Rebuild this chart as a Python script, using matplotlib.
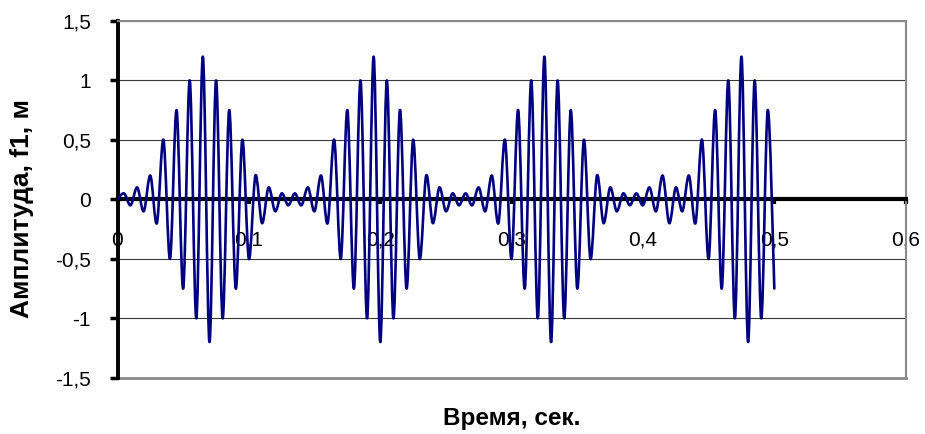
import numpy as np
import matplotlib
matplotlib.use("Agg")
import matplotlib.pyplot as plt
from matplotlib.path import Path
from matplotlib.patches import PathPatch

plt.rcParams["font.family"] = ["Liberation Sans", "DejaVu Sans"]

# sample times (s), step 0.005 s
time_s = np.linspace(0.0, 0.5, 101)

# amplitude f1 (m)
amplitude = [
    0.0, 0.05, -0.05, 0.1, -0.1, 0.2, -0.2, 0.5, -0.5, 0.75, -0.75,
    1.0, -1.0, 1.2, -1.2, 1.0, -1.0, 0.75, -0.75, 0.5, -0.5,
    0.2, -0.2, 0.1, -0.1, 0.05, -0.05, 0.05, -0.05, 0.1, -0.1,
    0.2, -0.2, 0.5, -0.5, 0.75, -0.75, 1.0, -1.0, 1.2, -1.2,
    1.0, -1.0, 0.75, -0.75, 0.5, -0.5, 0.2, -0.2, 0.1, -0.1,
    0.05, -0.05, 0.05, -0.05, 0.1, -0.1, 0.2, -0.2, 0.5, -0.5,
    0.75, -0.75, 1.0, -1.0, 1.2, -1.2, 1.0, -1.0, 0.75, -0.75,
    0.5, -0.5, 0.2, -0.2, 0.1, -0.1, 0.05, -0.05, 0.05, -0.05,
    0.1, -0.1, 0.2, -0.2, 0.1, -0.1, 0.2, -0.2, 0.5, -0.5,
    0.75, -0.75, 1.0, -1.0, 1.2, -1.2, 1.0, -1.0, 0.75, -0.75,
]

x_ticks = [0.0, 0.1, 0.2, 0.3, 0.4, 0.5, 0.6]
x_tick_labels = ["0", "0,1", "0,2", "0,3", "0,4", "0,5", "0,6"]
y_ticks = [-1.5, -1.0, -0.5, 0.0, 0.5, 1.0, 1.5]
y_tick_labels = ["-1,5", "-1", "-0,5", "0", "0,5", "1", "1,5"]

x_label = "Время, сек."
y_label = "Амплитуда, f1, м"


def smooth_path(xs, ys):
    """Excel-like smoothed line: cubic Bezier segments through the points."""
    pts = np.column_stack([xs, ys])
    n = len(pts)
    verts = [pts[0]]
    codes = [Path.MOVETO]
    for i in range(n - 1):
        p0 = pts[i - 1] if i > 0 else pts[i]
        p1 = pts[i]
        p2 = pts[i + 1]
        p3 = pts[i + 2] if i + 2 < n else pts[i + 1]
        c1 = p1 + (p2 - p0) / 6.0
        c2 = p2 - (p3 - p1) / 6.0
        verts += [c1, c2, p2]
        codes += [Path.CURVE4] * 3
    return Path(verts, codes)


W, H = 925, 434
fig = plt.figure(figsize=(W / 100, H / 100), dpi=100)
ax = fig.add_axes([117.5 / W, 56.3 / H, 788.2 / W, 356.7 / H])

ax.set_xlim(0, 0.6)
ax.set_ylim(-1.5, 1.5)

curve = PathPatch(smooth_path(time_s, amplitude), fill=False,
                  edgecolor="#000080", lw=1.9, zorder=4,
                  capstyle="round", joinstyle="round")
ax.add_patch(curve)

# grid
ax.set_yticks(y_ticks)
ax.set_yticklabels(y_tick_labels)
ax.set_xticks(x_ticks)
ax.set_xticklabels(x_tick_labels)
ax.yaxis.grid(True, color="#3a3a3a", lw=0.8, zorder=0)
ax.set_axisbelow(True)

# spines
ax.spines["left"].set_linewidth(2.8)
ax.spines["left"].set_color("black")
ax.spines["bottom"].set_position(("data", 0))
ax.spines["bottom"].set_linewidth(3.0)
ax.spines["bottom"].set_color("black")
ax.spines["bottom"].set_zorder(3)
ax.spines["top"].set_color("#8a8a8a")
ax.spines["top"].set_linewidth(1.5)
ax.spines["right"].set_color("#8a8a8a")
ax.spines["right"].set_linewidth(1.5)
ax.axhline(-1.5, color="#8a8a8a", lw=2.0, clip_on=False, zorder=1)

ax.tick_params(axis="x", direction="out", length=3.5, width=3, color="black",
               pad=19, labelsize=15)
ax.tick_params(axis="y", direction="out", length=6, width=2.5, color="black",
               pad=13, labelsize=15)

fig.text(21.7 / W, 1 - 208 / H, y_label, rotation=90, ha="center", va="center",
         fontsize=19, fontweight="bold")
fig.text(512 / W, 1 - 418 / H, x_label, ha="center", va="center",
         fontsize=17.5, fontweight="bold")

fig.savefig("out.png", dpi=100)
